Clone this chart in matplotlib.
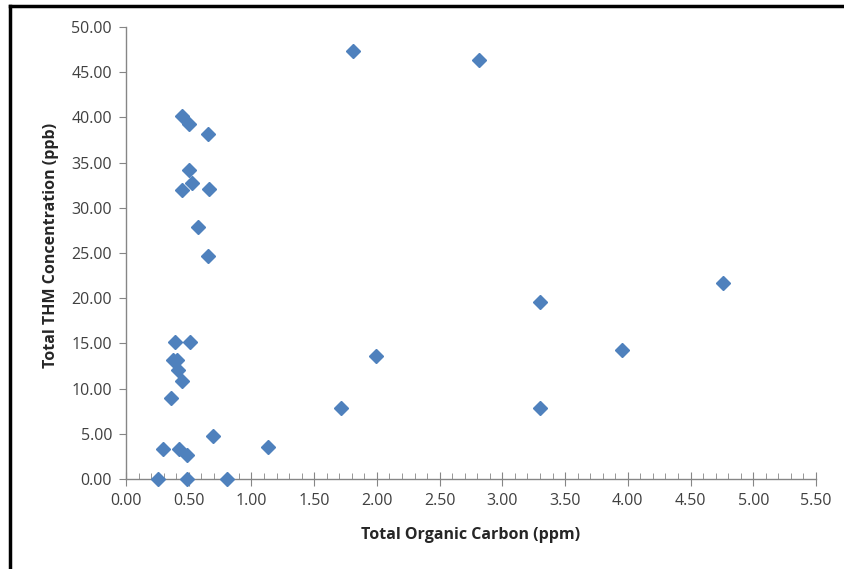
import matplotlib.pyplot as plt
from matplotlib.lines import Line2D
from matplotlib.ticker import MultipleLocator, FormatStrFormatter

# Total Organic Carbon (ppm) vs Total THM Concentration (ppb)
toc = [1.81, 2.81, 0.45, 0.50, 0.65, 0.50, 0.53, 0.45, 0.66, 0.57,
       0.65, 4.76, 3.30, 0.39, 0.51, 0.375, 0.41, 0.415, 0.45, 0.36,
       0.69, 0.295, 0.42, 0.49, 0.255, 0.49, 0.805, 1.99, 1.71, 1.13,
       3.30, 3.95]
thm = [47.3, 46.3, 40.1, 39.3, 38.2, 34.2, 32.7, 32.0, 32.1, 27.9,
       24.7, 21.7, 19.6, 15.2, 15.2, 13.2, 13.2, 12.1, 10.8, 9.0,
       4.8, 3.3, 3.3, 2.7, 0.0, 0.0, 0.0, 13.6, 7.9, 3.5,
       7.8, 14.3]

plt.rcParams['font.family'] = ['Open Sans', 'DejaVu Sans']

fig = plt.figure(figsize=(8.45, 5.69), dpi=100)
ax = fig.add_axes([126 / 845, 1 - 479 / 569, 690 / 845, 452 / 569])

ax.plot(toc, thm, linestyle='none', marker='D', markersize=7,
        color='#4F81BD', markeredgecolor='#4F81BD', clip_on=False, zorder=3)

ax.set_xlim(0, 5.5)
ax.set_ylim(0, 50)
ax.xaxis.set_major_locator(MultipleLocator(0.5))
ax.xaxis.set_minor_locator(MultipleLocator(0.1))
ax.yaxis.set_major_locator(MultipleLocator(5))
ax.xaxis.set_major_formatter(FormatStrFormatter('%.2f'))
ax.yaxis.set_major_formatter(FormatStrFormatter('%.2f'))

for side in ['top', 'right']:
    ax.spines[side].set_visible(False)
for side in ['left', 'bottom']:
    ax.spines[side].set_color('#868686')
    ax.spines[side].set_linewidth(1.0)

ax.tick_params(axis='x', which='major', direction='inout', length=10,
               color='#868686', labelsize=11.5, labelcolor='#404040', pad=5)
ax.tick_params(axis='x', which='minor', direction='in', length=4, color='#868686')
ax.tick_params(axis='y', which='major', direction='out', length=5,
               color='#868686', labelsize=11.5, labelcolor='#404040', pad=5)

ax.set_xlabel('Total Organic Carbon (ppm)', fontsize=11.5, fontweight='bold',
              color='#262626')
ax.set_ylabel('Total THM Concentration (ppb)', fontsize=11.5, fontweight='bold',
              color='#262626')
ax.yaxis.set_label_coords(-(126 - 59) / 690, (479 - 245) / 452)
ax.xaxis.set_label_coords((471 - 126) / 690, -(527 - 479) / 452)

# outer chart frame (top and left edges visible)
fig.add_artist(Line2D([10 / 845, 10 / 845], [0, 1 - 6 / 569],
                      transform=fig.transFigure, color='black', linewidth=2.5))
fig.add_artist(Line2D([10 / 845, 1], [1 - 6 / 569, 1 - 6 / 569],
                      transform=fig.transFigure, color='black', linewidth=2.5))

fig.savefig('out.png', dpi=100)
